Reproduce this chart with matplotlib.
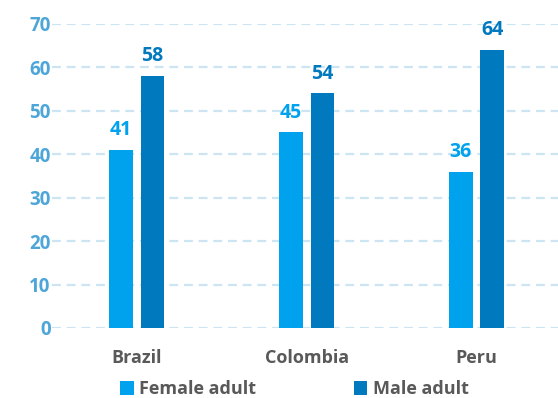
import numpy as np
import matplotlib.pyplot as plt

countries = ["Brazil", "Colombia", "Peru"]
female = [41, 45, 36]
male = [58, 54, 64]
series_names = ["Female adult", "Male adult"]

col_f = "#00a2ed"
col_m = "#0079bf"
tick_col = "#4ea6d8"
grid_col = "#cde5f3"
text_col = "#595959"

plt.rcParams['font.family'] = ['Open Sans', 'DejaVu Sans']

fig = plt.figure(figsize=(5.58, 3.98), dpi=100)
ax = fig.add_axes([0.093, 0.176, 0.907, 0.764])

x = np.arange(len(countries))
w = 0.14
off = 0.093
bf = ax.bar(x - off, female, w, color=col_f, label=series_names[0], zorder=3)
bm = ax.bar(x + off, male, w, color=col_m, label=series_names[1], zorder=3)

for rect, v in zip(bf, female):
    ax.annotate(str(v), (rect.get_x() + rect.get_width() / 2, v), xytext=(0, 7),
                textcoords="offset points", ha="center", va="bottom",
                color=col_f, fontsize=14, fontweight="bold")
for rect, v in zip(bm, male):
    ax.annotate(str(v), (rect.get_x() + rect.get_width() / 2, v), xytext=(0, 7),
                textcoords="offset points", ha="center", va="bottom",
                color=col_m, fontsize=14, fontweight="bold")

ax.set_ylim(0, 70)
ax.set_xlim(-0.5, 2.48)
ax.set_yticks(range(0, 71, 10))
ax.yaxis.grid(True, color=grid_col, linestyle=(0, (4, 2.6)), linewidth=1.6, zorder=0)
ax.set_axisbelow(True)
for s in ax.spines.values():
    s.set_visible(False)
ax.tick_params(axis="y", length=0, pad=1, labelcolor=tick_col, labelsize=13.5)
ax.tick_params(axis="x", length=0, pad=15, labelcolor=text_col, labelsize=13)
for lbl in ax.get_yticklabels() + ax.get_xticklabels():
    lbl.set_fontweight("bold")
ax.set_xticks(x)
ax.set_xticklabels(countries)

leg = fig.legend(handles=[bf, bm], labels=series_names, loc="center",
                 bbox_to_anchor=(0.528, 0.022), ncol=2, frameon=False,
                 handlelength=0.75, handleheight=0.75, handletextpad=0.3,
                 columnspacing=5.4, prop={"weight": "bold", "size": 13})
for t in leg.get_texts():
    t.set_color(text_col)

fig.savefig("out.png", dpi=100)
